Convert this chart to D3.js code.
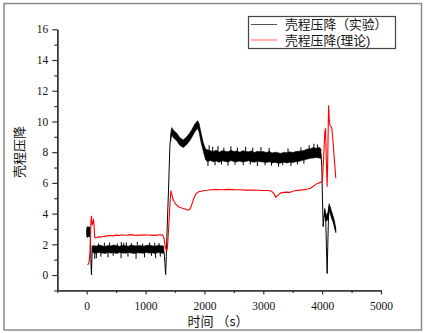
<!DOCTYPE html>
<html><head><meta charset="utf-8">
<script src="https://cdn.jsdelivr.net/npm/d3@7"></script>
<style>body{margin:0;background:#fff}svg{display:block}</style>
</head><body><svg id="c" width="425" height="333"></svg>
<script>
// ---- tick labels / names ----
const xTicks = [0, 1000, 2000, 3000, 4000, 5000];
const xMinor = [-500, 500, 1500, 2500, 3500, 4500];
const yTicks = [0, 2, 4, 6, 8, 10, 12, 14, 16];
const yMinor = [-1, 1, 3, 5, 7, 9, 11, 13, 15];
const seriesNames = ["壳程压降（实验）", "壳程压降(理论)"];
const xTitle = "时间 （s）";
const yTitle = "壳程压降";

// ---- theory series (red) ----
const redT = [10,25,40,55,65,72,78,86,95,105,113,119,128,136,150,180,220,260,300,350,400,450,500,550,600,650,700,750,800,850,900,950,1000,1050,1100,1150,1200,1250,1290,1310,1325,1340,1358,1372,1388,1405,1420,1431,1445,1465,1490,1520,1560,1610,1660,1700,1730,1760,1790,1820,1860,1900,1950,2000,2050,2100,2200,2300,2400,2500,2600,2700,2800,2900,3000,3080,3140,3180,3214,3250,3300,3350,3400,3450,3500,3560,3620,3700,3760,3800,3850,3900,3950,3990,4006,4025,4045,4057,4068,4078,4085,4095,4104,4110,4120,4130,4145,4165,4187,4210,4232];
const redV = [0.68,0.7,0.85,1.5,2.7,3.5,3.85,3.5,3.25,3.4,3.6,3.55,3.0,2.48,2.42,2.46,2.5,2.48,2.52,2.55,2.57,2.55,2.6,2.58,2.62,2.59,2.6,2.63,2.6,2.58,2.61,2.6,2.62,2.59,2.6,2.58,2.6,2.62,2.6,2.45,2.1,1.75,1.52,1.8,2.8,4.0,5.0,5.5,5.25,4.95,4.75,4.58,4.45,4.37,4.32,4.25,4.22,4.32,4.65,5.0,5.3,5.42,5.46,5.5,5.52,5.55,5.57,5.55,5.58,5.56,5.55,5.53,5.54,5.52,5.5,5.5,5.45,5.3,5.06,5.2,5.35,5.38,5.4,5.38,5.45,5.5,5.53,5.56,5.6,5.65,5.78,5.92,6.0,6.05,6.2,7.6,9.3,9.55,8.0,6.5,5.75,7.5,9.8,11.05,10.2,9.77,9.7,9.55,8.6,7.4,6.3];

// ---- experimental series (black): centre line ----
const expT = [0,10,20,30,40,50,58,66,72,80,88,96,104,112,200,400,600,800,1000,1200,1300,1315,1328,1341,1352,1368,1390,1414,1443,1480,1528,1580,1640,1700,1750,1783,1840,1884,1910,1945,1981,2020,2050,2200,2500,2800,3000,3200,3400,3600,3750,3850,3950,3980,3995,4005,4017,4035,4046,4060,4072,4085,4095,4108,4120,4140,4160,4190,4215,4232];
const expV = [2.9,2.6,3.05,2.55,3.0,2.7,2.8,1.9,0.8,0.02,1.0,1.9,1.5,1.7,1.67,1.67,1.67,1.66,1.67,1.66,1.65,1.45,0.8,0.03,1.2,3.2,5.6,8.5,9.4,9.15,9.0,8.7,8.55,8.75,9.0,9.2,9.6,9.85,9.6,8.9,8.35,7.95,7.8,7.75,7.75,7.72,7.7,7.62,7.65,7.72,7.85,7.95,7.98,7.9,7.0,5.0,3.15,3.9,4.2,3.7,2.0,0.1,1.8,3.8,4.5,4.2,3.95,3.6,3.2,2.85];

// ---- experimental noise envelopes ----
const bandA_T = [0,15,30,45,55];
const bandA_Lo = [2.5,2.45,2.5,2.48,2.55];
const bandA_Hi = [3.1,3.15,3.12,3.15,3.05];
const bandB_T = [110,160,210,260,310,360,410,460,510,560,610,660,710,760,810,860,910,960,1010,1060,1110,1160,1210,1260,1310];
const bandB_Lo = [1.45,1.42,1.47,1.44,1.40,1.46,1.43,1.45,1.41,1.47,1.44,1.42,1.46,1.43,1.40,1.45,1.44,1.42,1.47,1.43,1.45,1.41,1.46,1.44,1.42];
const bandB_Hi = [1.92,1.88,1.95,1.90,1.86,1.93,1.89,1.96,1.91,1.87,1.94,1.90,1.88,1.95,1.91,1.89,1.93,1.87,1.92,1.96,1.90,1.88,1.94,1.91,1.89];
const bandC_T = [1425,1443,1480,1528,1580,1640,1700,1750,1783,1840,1884,1910,1945,1981,2020,2050];
const bandC_Lo = [8.7,9.15,8.9,8.75,8.45,8.3,8.5,8.75,8.95,9.35,9.55,9.3,8.6,8.05,7.5,7.4];
const bandC_Hi = [9.1,9.6,9.4,9.25,8.95,8.8,9.0,9.25,9.45,9.85,10.05,9.85,9.2,8.6,8.2,8.15];
const bandD_T = [2050,2100,2150,2200,2250,2300,2350,2400,2450,2500,2550,2600,2650,2700,2750,2800,2850,2900,2950,3000,3050,3100,3150,3200,3250,3300,3350,3400,3450,3500,3550,3600,3650,3700,3750,3800,3850,3900,3950,3980];
const bandD_Hi = [8.15,8.1,8.05,8.12,8.0,8.1,8.06,8.02,8.12,8.04,8.08,8.0,8.1,8.05,8.02,8.08,7.98,8.06,8.02,8.04,7.98,8.05,7.95,8.0,7.96,7.92,8.0,7.96,8.02,7.98,8.04,8.06,8.08,8.12,8.2,8.22,8.3,8.25,8.32,8.2];
const bandD_Lo = [7.4,7.45,7.38,7.42,7.35,7.44,7.4,7.36,7.45,7.4,7.38,7.42,7.36,7.4,7.44,7.38,7.35,7.42,7.38,7.36,7.32,7.38,7.3,7.34,7.28,7.3,7.35,7.3,7.34,7.32,7.38,7.4,7.45,7.5,7.55,7.6,7.62,7.65,7.62,7.6];
const bandE_T = [4035,4046,4060,4100,4120,4140,4160,4190,4215,4232];
const bandE_Lo = [3.75,3.95,3.5,3.6,4.2,3.95,3.7,3.4,3.0,2.75];
const bandE_Hi = [4.0,4.35,3.85,4.1,4.65,4.4,4.15,3.8,3.4,3.0];

// ---- experimental noise spikes ----
const spikeT = [136,163,240,362,450,583,701,838,983,1100,1170,1250,200,300,390,520,587,628,673,758,860,950,1070,1155,1230,
  2060,2180,2290,2400,2520,2660,2780,2900,3030,3140,3260,3330,3470,3580,3690,2080,2140,2230,2330,2450,2560,2700,2820,2960,3100,3420,3640,3780,3860,3920];
const spikeV = [1.05,1.1,1.2,1.15,1.25,1.1,1.2,1.05,1.15,1.25,1.1,1.2,2.05,2.1,2.12,2.05,2.15,2.1,2.12,2.08,2.15,2.05,2.12,2.1,2.08,
  7.1,7.15,7.2,7.12,7.18,7.15,7.2,7.1,7.15,7.12,7.05,7.15,7.1,7.2,7.25,8.45,8.35,8.4,8.3,8.38,8.3,8.35,8.3,8.32,8.28,8.25,8.32,8.45,8.55,8.5];

// ---- drawing ----
const svg = d3.select("#c");
const x = d3.scaleLinear().domain([-500, 5000]).range([57.3, 381]);
const y = d3.scaleLinear().domain([-1, 16]).range([290.4, 29.3]);

// outer frame
svg.append("rect").attr("x", 4).attr("y", 3.5).attr("width", 417.5).attr("height", 326.5)
  .attr("fill", "none").attr("stroke", "#8a8a8a").attr("stroke-width", 1.5);

const serif = "'Liberation Serif','DejaVu Serif',serif";
const cjk = "'Noto Sans CJK SC','Noto Sans',sans-serif";
const legFont = "'Liberation Sans','Noto Sans CJK SC',sans-serif";

function styleAxis(g) {
  g.select(".domain").attr("stroke", "#333").attr("stroke-width", 1.4);
  g.selectAll(".tick line").attr("stroke", "#333").attr("stroke-width", 1.2);
  g.selectAll("text").attr("font-family", serif).attr("font-size", 11.5).attr("fill", "#111");
}
// y axis
const gy = svg.append("g").attr("transform", `translate(${x(-500)},0)`)
  .call(d3.axisLeft(y).tickValues(yTicks).tickSize(5).tickSizeOuter(0).tickPadding(4).tickFormat(d3.format("d")));
styleAxis(gy);
const gym = svg.append("g").attr("transform", `translate(${x(-500)},0)`)
  .call(d3.axisLeft(y).tickValues(yMinor).tickSize(3).tickSizeOuter(0).tickFormat(""));
styleAxis(gym);
// x axis
const gx = svg.append("g").attr("transform", `translate(0,${y(-1)})`)
  .call(d3.axisBottom(x).tickValues(xTicks).tickSize(4).tickSizeOuter(0).tickPadding(7).tickFormat(d3.format("d")));
styleAxis(gx);
const gxm = svg.append("g").attr("transform", `translate(0,${y(-1)})`)
  .call(d3.axisBottom(x).tickValues(xMinor).tickSize(2.5).tickSizeOuter(0).tickFormat(""));
styleAxis(gxm);

// titles
svg.append("text").attr("x", 218).attr("y", 326).attr("text-anchor", "middle")
  .attr("font-family", cjk).attr("font-size", 13).attr("fill", "#111").text(xTitle);
svg.append("text").attr("transform", "translate(24,152) rotate(-90)").attr("text-anchor", "middle")
  .attr("font-family", cjk).attr("font-size", 13).attr("fill", "#111").text(yTitle);

// experimental bands
const bands = [[bandA_T, bandA_Lo, bandA_Hi], [bandB_T, bandB_Lo, bandB_Hi], [bandC_T, bandC_Lo, bandC_Hi],
               [bandD_T, bandD_Lo, bandD_Hi], [bandE_T, bandE_Lo, bandE_Hi]];
const area = d3.area().x(d => x(d[0])).y0(d => y(d[1])).y1(d => y(d[2]));
bands.forEach(([T, L, H]) => {
  svg.append("path").datum(T.map((t, i) => [t, L[i], H[i]]))
    .attr("d", area).attr("fill", "#000").attr("stroke", "#000").attr("stroke-width", 0.6);
});
// spikes
const centre = t => { const i = d3.bisectLeft(expT, t); const t0 = expT[i-1], t1 = expT[i];
  return expV[i-1] + (expV[i] - expV[i-1]) * (t - t0) / (t1 - t0); };
svg.append("path").attr("d", spikeT.map((t, i) => `M${x(t)},${y(centre(t))}L${x(t)},${y(spikeV[i])}`).join(""))
  .attr("stroke", "#000").attr("stroke-width", 1).attr("fill", "none");

const line = d3.line().x(d => x(d[0])).y(d => y(d[1]));
svg.append("path").datum(expT.map((t, i) => [t, expV[i]])).attr("d", line)
  .attr("fill", "none").attr("stroke", "#000").attr("stroke-width", 1);
svg.append("path").datum(redT.map((t, i) => [t, redV[i]])).attr("d", line)
  .attr("fill", "none").attr("stroke", "#ff0000").attr("stroke-width", 1.1);

// legend
svg.append("rect").attr("x", 248.5).attr("y", 16.5).attr("width", 147).attr("height", 32)
  .attr("fill", "#fff").attr("stroke", "#444").attr("stroke-width", 1.2);
const legColors = ["#555", "#ff6060"];
const legY = [24.5, 40];
seriesNames.forEach((name, i) => {
  svg.append("line").attr("x1", 251).attr("x2", 277).attr("y1", legY[i]).attr("y2", legY[i])
    .attr("stroke", legColors[i]).attr("stroke-width", 1);
  svg.append("text").attr("x", 285).attr("y", legY[i] + 4.6).attr("font-family", legFont).attr("font-size", 12.8)
    .attr("fill", "#111").text(name);
});
</script></body></html>
